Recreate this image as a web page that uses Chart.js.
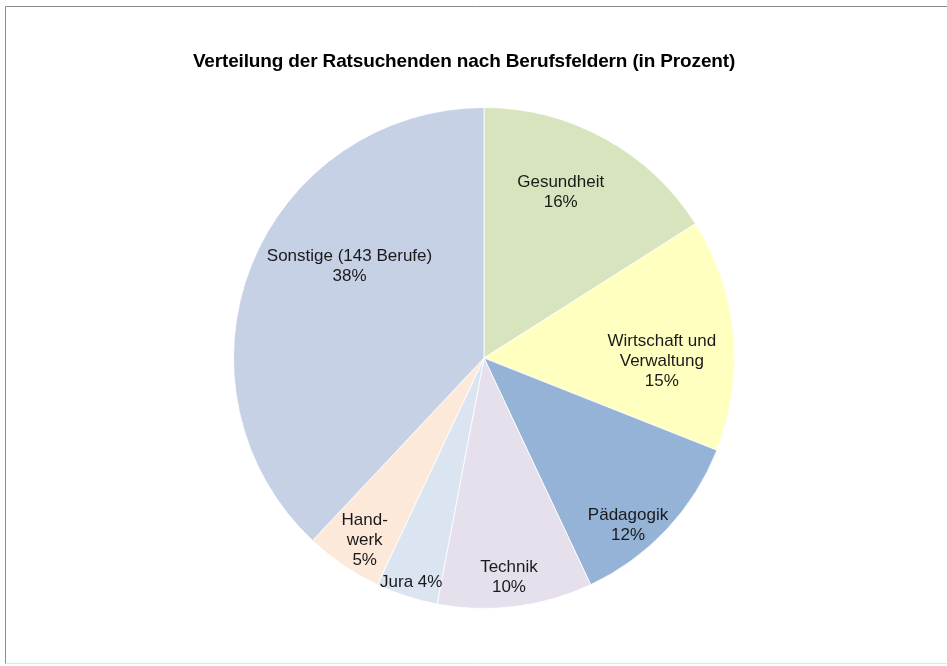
<!DOCTYPE html>
<html>
<head>
<meta charset="utf-8">
<script src="https://cdn.jsdelivr.net/npm/chart.js@4"></script>
<style>
  html, body { margin: 0; padding: 0; background: #fff; }
  #wrap { position: relative; width: 947px; height: 666px; }
</style>
</head>
<body>
<div id="wrap"><canvas id="chart" width="947" height="666"></canvas></div>
<script>
const TITLE = 'Verteilung der Ratsuchenden nach Berufsfeldern (in Prozent)';
const labels = ['Gesundheit', 'Wirtschaft und Verwaltung', 'Pädagogik', 'Technik', 'Jura', 'Handwerk', 'Sonstige (143 Berufe)'];
const shares = [16, 15, 12, 10, 4, 5, 38];
const colors = ['#d7e4bd', '#ffffc0', '#95b3d7', '#e6e0ec', '#dbe5f1', '#fde9d9', '#c6d1e6'];

// how each label is written and where it sits: shift from the mid angle (deg), radius fraction
const labelLines = [
    (v) => ['Gesundheit', v + '%'],
    (v) => ['Wirtschaft und', 'Verwaltung', v + '%'],
    (v) => ['Pädagogik', v + '%'],
    (v) => ['Technik', v + '%'],
    (v) => ['Jura ' + v + '%'],
    (v) => ['Hand-', 'werk', v + '%'],
    (v) => ['Sonstige (143 Berufe)', v + '%'],
];
const labelPlace = [[-4, 0.73], [6.5, 0.71], [6, 0.88], [0.7, 0.88], [0, 0.94], [-1, 0.87], [12.7, 0.65]];

const frame = {
    id: 'frame',
    beforeDraw(chart) {
        const ctx = chart.ctx;
        ctx.save();
        ctx.lineWidth = 1;
        ctx.strokeStyle = '#e4e4e4';
        ctx.beginPath();
        ctx.moveTo(5.5, 663.5);
        ctx.lineTo(947, 663.5);
        ctx.stroke();
        ctx.strokeStyle = '#8c8c8c';
        ctx.beginPath();
        ctx.moveTo(5.5, 663.5);
        ctx.lineTo(5.5, 6.5);
        ctx.lineTo(947, 6.5);
        ctx.stroke();
        ctx.restore();
    },
};

const titleAndLabels = {
    id: 'titleAndLabels',
    afterDraw(chart) {
        const ctx = chart.ctx;
        ctx.save();
        ctx.fillStyle = '#000';
        ctx.textAlign = 'center';
        ctx.textBaseline = 'middle';
        ctx.font = 'bold 19px "Liberation Sans", Arial, sans-serif';
        ctx.letterSpacing = '-0.15px';
        ctx.fillText(TITLE, 464, 62);
        ctx.letterSpacing = '0px';

        ctx.font = '17px "Liberation Sans", Arial, sans-serif';
        ctx.fillStyle = '#1a1a1a';
        chart.getDatasetMeta(0).data.forEach((arc, i) => {
            const p = arc.getProps(['x', 'y', 'startAngle', 'endAngle', 'outerRadius'], true);
            const mid = (p.startAngle + p.endAngle) / 2 + labelPlace[i][0] * Math.PI / 180;
            const r = p.outerRadius * labelPlace[i][1];
            const cx = p.x + Math.cos(mid) * r;
            const cy = p.y + Math.sin(mid) * r;
            const lines = labelLines[i](shares[i]);
            const lh = 20;
            lines.forEach((t, k) => {
                ctx.fillText(t, cx, cy + (k - (lines.length - 1) / 2) * lh);
            });
        });
        ctx.restore();
    },
};

const config = {
    type: 'pie',
    data: {
        labels: labels,
        datasets: [{
            data: shares,
            backgroundColor: colors,
            borderColor: 'rgba(255,255,255,0.8)',
            borderWidth: 1,
        }],
    },
    options: {
        responsive: false,
        animation: false,
        layout: {padding: {left: 233, right: 212, top: 107, bottom: 57}},
        plugins: {
            legend: {display: false},
            title: {display: false},
            tooltip: {enabled: false},
        },
    },
    plugins: [frame, titleAndLabels],
};

new Chart('chart', config);
</script>
</body>
</html>
